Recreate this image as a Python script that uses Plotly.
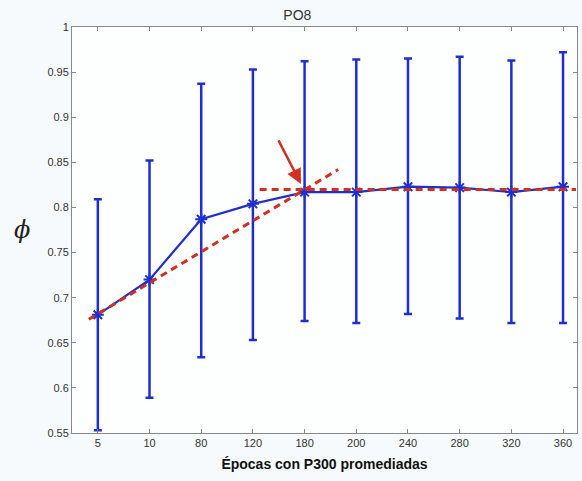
import plotly.graph_objects as go

categories = ["5", "10", "80", "120", "180", "200", "240", "280", "320", "360"]
mean_phi = [0.681, 0.720, 0.787, 0.804, 0.817, 0.817, 0.823, 0.822, 0.817, 0.823]
upper_phi = [0.809, 0.852, 0.937, 0.953, 0.962, 0.964, 0.965, 0.967, 0.963, 0.972]
lower_phi = [0.553, 0.589, 0.634, 0.653, 0.674, 0.672, 0.682, 0.677, 0.672, 0.672]

# trend lines (x in category-index units)
trend1_x = [-0.175, 4.65]
trend1_y = [0.676, 0.842]
trend2_x = [3.13, 9.25]
trend2_y = [0.820, 0.820]

y_ticks = [0.55, 0.6, 0.65, 0.7, 0.75, 0.8, 0.85, 0.9, 0.95, 1.0]
y_labels = ["0.55", "0.6", "0.65", "0.7", "0.75", "0.8", "0.85", "0.9", "0.95", "1"]

x_idx = list(range(len(categories)))
err_plus = [u - m for u, m in zip(upper_phi, mean_phi)]
err_minus = [m - l for m, l in zip(mean_phi, lower_phi)]

blue = "#1f2fcf"
red = "#d2301f"

W, H = 582, 481
L, R, T, B = 72, 5, 27, 48

fig = go.Figure()
fig.add_trace(go.Scatter(
    x=x_idx, y=mean_phi, mode="lines+markers",
    line=dict(color=blue, width=2.2),
    marker=dict(symbol="asterisk-open", size=10, color=blue, line=dict(color=blue, width=2)),
    error_y=dict(type="data", symmetric=False, array=err_plus, arrayminus=err_minus,
                 color=blue, thickness=2.5, width=4),
    showlegend=False,
))
for tx, ty in ((trend1_x, trend1_y), (trend2_x, trend2_y)):
    fig.add_trace(go.Scatter(x=tx, y=ty, mode="lines",
                             line=dict(color=red, width=3, dash="7px,5px"), showlegend=False))

fig.add_annotation(x=3.93, y=0.826, ax=3.48, ay=0.876, xref="x", yref="y", axref="x", ayref="y",
                   text="", showarrow=True, arrowhead=2, arrowsize=1.2, arrowwidth=2.5,
                   arrowcolor=red)

fig.add_annotation(xref="paper", yref="paper",
                   x=(12 - L) / (W - L - R), y=1 - (230 - T) / (H - T - B),
                   text="<i>ϕ</i>", showarrow=False,
                   font=dict(family="DejaVu Serif", size=24, color="#222"))

axis_common = dict(showline=True, linecolor="#888", linewidth=1, mirror="ticks",
                   ticks="inside", ticklen=4, tickcolor="#888", showgrid=False, zeroline=False,
                   tickfont=dict(family="Liberation Sans", size=11, color="#333"))

fig.update_layout(
    width=W, height=H,
    margin=dict(l=L, r=R, t=T, b=B),
    paper_bgcolor="#f7fafc", plot_bgcolor="#fdfefe",
    title=dict(text="PO8", x=(330 - L) / (W - L - R), xanchor="center", y=1 - 15 / H,
               yanchor="middle",
               font=dict(family="Liberation Sans", size=14, color="#333")),
    xaxis=dict(range=[-0.5, 9.27], tickvals=x_idx, ticktext=categories,
               title=dict(text="<b>Épocas con P300 promediadas</b>", standoff=10,
                          font=dict(family="Liberation Sans", size=14, color="#111")),
               **axis_common),
    yaxis=dict(range=[0.55, 1.0], tickvals=y_ticks, ticktext=y_labels, **axis_common),
)

fig.write_html("out.html", config={"displayModeBar": False},
               post_script="document.body.style.margin='0';document.body.style.padding='0';")
